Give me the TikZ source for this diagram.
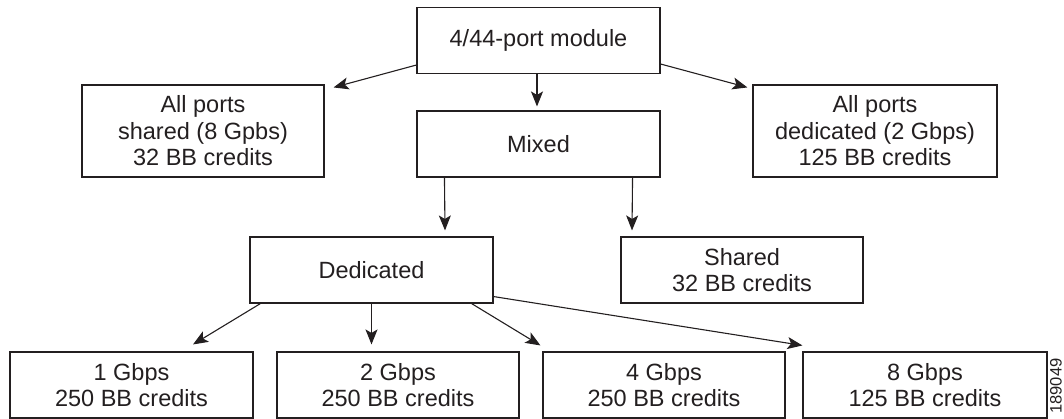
\documentclass[tikz,border=0pt]{standalone}
\usepackage{fontspec}
\setmainfont{Liberation Sans}
\usetikzlibrary{arrows.meta}
\definecolor{ink}{HTML}{231F20}
\tikzset{
  box/.style={draw=ink, text=ink, line width=1.1pt, minimum width=243pt, minimum height=66pt,
    align=center, inner sep=0pt, font=\fontsize{23.5}{26.5}\selectfont},
  tallbox/.style={box, minimum height=92pt},
  arr/.style={draw=ink, line width=1.1pt, -{Stealth[length=15pt,width=12pt,inset=3.5pt]}}
}
\begin{document}
\begin{tikzpicture}[x=1pt,y=-1pt]
\useasboundingbox (0,0) rectangle (1064,419);
% nodes
\node[box] (top) at (538.5,40.5) {4/44-port module};
\node[box] (mix) at (538.5,144) {Mixed};
\node[tallbox, minimum width=242pt] (lft) at (203,131) {All ports\\shared (8 Gpbs)\\32 BB credits};
\node[tallbox, minimum width=244pt] (rgt) at (875,131) {All ports\\dedicated (2 Gbps)\\125 BB credits};
\node[box] (ded) at (371.5,270) {Dedicated};
\node[box, minimum width=242pt] (shr) at (742,270) {Shared\\32 BB credits};
\node[box] (b1) at (131.5,385) {1 Gbps\\250 BB credits};
\node[box, minimum width=242pt] (b2) at (398,385) {2 Gbps\\250 BB credits};
\node[box, minimum width=242pt] (b4) at (664,385) {4 Gbps\\250 BB credits};
\node[box, minimum width=244pt] (b8) at (925,385) {8 Gbps\\125 BB credits};
\node[rotate=90, text=ink, font=\fontsize{16.5}{16.5}\selectfont, inner sep=0pt] (fig) at (1056,386) {189049};
% connectors
\draw[arr] ([yshift=-24.5pt]top.west) -- ([xshift=9pt,yshift=-3pt]lft.north east);
\draw[arr] ([yshift=-23.5pt]top.east) -- ([xshift=-5pt,yshift=-3pt]rgt.north west);
\draw[arr] ([xshift=-1.5pt]top.south) -- ([xshift=-1.5pt,yshift=4pt]mix.north);
\draw[arr] ([xshift=28pt]mix.south west) -- ([xshift=73.5pt,yshift=6pt]ded.north);
\draw[arr] ([xshift=-28pt]mix.south east) -- ([xshift=-110pt,yshift=6pt]shr.north);
\draw[arr] ([xshift=11pt]ded.south west) -- ([xshift=61.5pt,yshift=7pt]b1.north);
\draw[arr] (ded.south) -- ([xshift=-26.5pt,yshift=7pt]b2.north);
\draw[arr] ([xshift=-22pt]ded.south east) -- ([xshift=-2pt,yshift=6pt]b4.north west);
\draw[arr] ([yshift=7pt]ded.south east) -- ([yshift=6pt]b8.north west);
\end{tikzpicture}
\end{document}
